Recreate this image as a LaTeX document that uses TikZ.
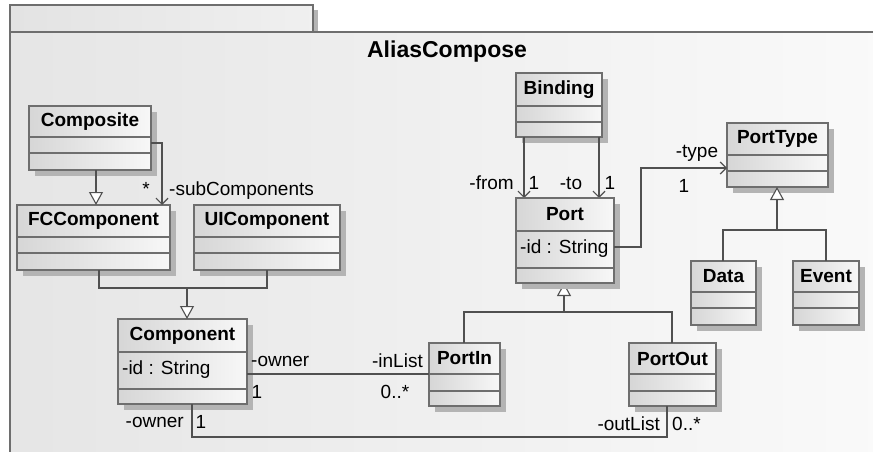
\documentclass[tikz,border=0pt]{standalone}
\usepackage{fontspec}
\setmainfont{Liberation Sans}
\usetikzlibrary{arrows.meta,fit,calc}
\definecolor{bord}{HTML}{6E6E6E}
\definecolor{conn}{HTML}{505050}
\definecolor{shad}{HTML}{B4B4B4}
\tikzset{
  clsbox/.style={draw=bord, line width=1.3pt, inner sep=0pt, outer sep=0pt, left color=black!16, right color=black!3},
  ttl/.style={font=\bfseries\fontsize{19}{21}\selectfont, inner sep=0pt},
  attr/.style={font=\fontsize{19}{21}\selectfont, inner sep=0pt, anchor=west},
  lbl/.style={font=\fontsize{19}{21}\selectfont, inner sep=0pt},
  cline/.style={draw=conn, line width=1.2pt},
  gen/.style={-{Triangle[length=13pt,width=14pt,fill=white,line width=1.1pt]}},
  assoc/.style={-{Straight Barb[length=6pt,width=12pt,line width=1.2pt]}},
}
\newcommand\umlclass[8]{%
  \fill[shad] (#2+6,#3+6) rectangle (#4+6,#5+6);
  \path (#2,#3) coordinate (#1-nw) (#4,#5) coordinate (#1-se);
  \node[clsbox, fit=(#1-nw)(#1-se)] (#1) {};
  \draw[bord, line width=1.3pt] (#2,#6) -- (#4,#6) (#2,#7) -- (#4,#7);
  \node[ttl] (#1-t) at ($(#2,#3)!0.5!(#4,#6)$) {#8};
}
\begin{document}
\begin{tikzpicture}[x=1pt,y=-1pt]
\useasboundingbox (0,0) rectangle (873,452);
\clip (0,0) rectangle (873,452);
\fill[white] (0,0) rectangle (873,452);
% package frame
\fill[shad] (313,10) rectangle (318,32);
\shade[left color=black!11, right color=black!6] (10,5) rectangle (313,32);
\draw[bord, line width=1.3pt] (10,32) -- (10,5) -- (313,5) -- (313,32);
\shade[left color=black!10, right color=black!2] (10,32) rectangle (885,460);
\draw[bord, line width=1.3pt] (10,470) -- (10,32) -- (885,32);
\node[font=\bfseries\fontsize{23}{25}\selectfont, inner sep=0pt] (pkgtitle) at (447,52) {AliasCompose};

% junction coordinates
\coordinate (j1) at (187,288);
\coordinate (j2) at (777,230);
\coordinate (j3) at (564,312);

\umlclass{composite}{29}{106}{151}{170}{137}{153}{Composite}
\umlclass{fcc}{17}{205}{170}{270}{237}{253}{FCComponent}
\umlclass{uic}{194}{205}{340}{270}{237}{253}{UIComponent}
\umlclass{binding}{516}{73}{602}{137}{106}{122}{Binding}
\umlclass{porttype}{727}{123}{828}{187}{155}{171}{PortType}
\umlclass{data}{691}{261}{756}{325}{292}{308}{Data}
\umlclass{event}{793}{261}{859}{325}{292}{308}{Event}
\umlclass{portin}{429}{343}{500}{406}{374}{391}{PortIn}
\umlclass{portout}{629}{343}{716}{406}{374}{391}{PortOut}

% generalizations and associations
\draw[cline, gen] (composite.south -| 96,0) -- (fcc.north -| 96,0);
\draw[cline, assoc] (composite.east |- 0,143) -| (fcc.north -| 162,0);
\draw[cline] (fcc.south -| 99,0) |- (j1) -| (uic.south -| 267,0);
\draw[cline, assoc] (binding.south -| 524,0) -- (524,198);
\draw[cline, assoc] (binding.south -| 599,0) -- (599,198);
\draw[cline] (data.north -| 723,0) |- (j2) -| (event.north -| 826,0);
\draw[cline, gen] (j2) -- (porttype.south -| 777,0);
\draw[cline] (portin.north -| 464,0) |- (j3) -| (portout.north -| 672,0);
\draw[cline, gen] (j3) -- (564,283);

\umlclass{port}{516}{198}{614}{283}{231}{268}{Port}
\umlclass{component}{118}{319}{247}{404}{352}{389}{Component}
\node[attr] (port-a) at (520,249) {-id : String};
\node[attr] (component-a) at (122,370) {-id : String};

\draw[cline, gen] (j1) -- (component.north -| 187,0);
\draw[cline, assoc] (port.east |- 0,247) -- (641,247) |- (porttype.west |- 0,168);
\draw[cline] (component.east |- 0,374) -- (portin.west |- 0,374);
\draw[cline] (component.south -| 192,0) |- (667,437) -- (portout.south -| 667,0);

% labels
\node[lbl] (l1) at (146,189) {*};
\node[lbl, anchor=west] (l2) at (169,191) {-subComponents};
\node[lbl, anchor=east] (l3) at (514,183) {-from};
\node[lbl] (l4) at (534,183) {1};
\node[lbl] (l5) at (571,183) {-to};
\node[lbl] (l6) at (610,183) {1};
\node[lbl] (l7) at (697,153) {-type};
\node[lbl] (l8) at (684,186) {1};
\node[lbl, anchor=west] (l9) at (251,361) {-owner};
\node[lbl] (l10) at (257,392) {1};
\node[lbl, anchor=east] (l11) at (423,361) {-inList};
\node[lbl] (l12) at (395,392) {0..*};
\node[lbl, anchor=east] (l13) at (184,422) {-owner};
\node[lbl] (l14) at (201,422) {1};
\node[lbl, anchor=east] (l15) at (660,424) {-outList};
\node[lbl, anchor=west] (l16) at (672,424) {0..*};
\end{tikzpicture}
\end{document}
